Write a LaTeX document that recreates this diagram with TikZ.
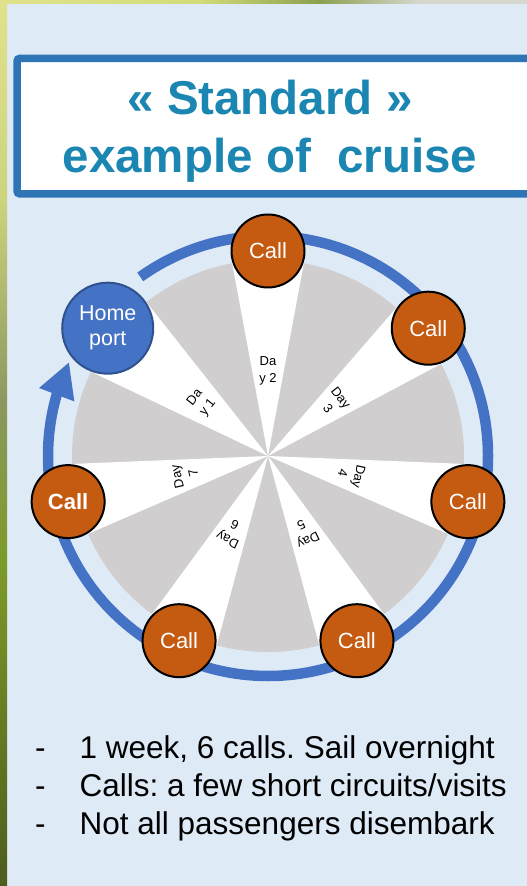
\documentclass[tikz,border=0pt]{standalone}
\usepackage{fontspec}
\setmainfont{Liberation Sans}
\frenchspacing
\usetikzlibrary{calc,arrows.meta,bending}
\definecolor{panel}{RGB}{222,234,246}
\definecolor{titleblue}{RGB}{46,117,182}
\definecolor{titletext}{RGB}{26,134,177}
\definecolor{ringblue}{RGB}{68,114,196}
\definecolor{homeborder}{RGB}{47,82,143}
\definecolor{callfill}{RGB}{197,90,17}
\definecolor{diskgray}{RGB}{208,206,206}
\definecolor{gA}{RGB}{224,226,140}
\definecolor{gB}{RGB}{205,212,125}
\definecolor{gC}{RGB}{140,152,95}
\definecolor{gD}{RGB}{125,155,40}
\definecolor{gE}{RGB}{78,92,30}
\definecolor{tA}{RGB}{210,220,120}
\definecolor{tB}{RGB}{140,160,80}
\definecolor{tC}{RGB}{215,215,208}
\pgfdeclarelayer{bg}
\pgfdeclarelayer{mid}
\pgfsetlayers{bg,mid,main}
\begin{document}
\begin{tikzpicture}[x=1pt,y=1pt,
  callc/.style={circle,draw=black,line width=2pt,fill=callfill,minimum size=73pt,inner sep=0pt,text=white,font=\fontsize{22}{24}\selectfont},
  homec/.style={circle,draw=homeborder,line width=2pt,fill=ringblue,minimum size=91pt,inner sep=0pt,text=white,align=center,font=\fontsize{21.5}{25}\selectfont},
  daylab/.style={align=center,inner sep=0pt,font=\fontsize{13}{16.5}\selectfont},
  bullettxt/.style={anchor=base west,inner sep=0pt,font=\fontsize{31.5}{36}\selectfont},
  titletxt/.style={anchor=base,inner sep=0pt,text=titletext,font=\bfseries\fontsize{47.5}{55}\selectfont},
  wedge/.style={fill=white},
  ring/.style={ringblue,line width=10.5pt,-{Triangle[length=35pt,width=35pt,flex]}}]
\useasboundingbox (0,0) rectangle (527,886);
\coordinate (C) at (268,430);
\begin{pgfonlayer}{bg}
  \fill[panel] (0,0) rectangle (527,886);
  \shade[top color=gA,bottom color=gB] (0,686) rectangle (7,886);
  \shade[top color=gB,bottom color=gC] (0,486) rectangle (7,686.5);
  \shade[top color=gC,bottom color=gD] (0,326) rectangle (7,486.5);
  \shade[top color=gD,bottom color=gE] (0,0) rectangle (7,326.5);
  \shade[left color=gA,right color=tA] (0,882) rectangle (200,886);
  \shade[left color=tA,right color=tB] (199.5,882) rectangle (320,886);
  \shade[left color=tB,right color=tC] (319.5,882) rectangle (420,886);
  \fill[tC] (419.5,882) rectangle (527,886);
  \draw[titleblue,line width=7.5pt,fill=white,rounded corners=3pt] (17,692) rectangle (545,827.7);
  \fill[diskgray] (C) circle[radius=196];
\end{pgfonlayer}
% title
\node[titletxt] (t1) at (270,771) {« Standard »};
\node[titletxt] (t2) at (270,713) {example of\ \ cruise};
% ports
\node[callc] (call2) at ($(C)+(90:205)$) {Call};
\node[homec] (home) at ($(C)+(141.43:205)$) {Home\\port};
\node[callc,font=\bfseries\fontsize{22}{24}\selectfont] (call7) at ($(C)+(192.86:205)$) {Call};
\node[callc] (call6) at ($(C)+(244.29:205)$) {Call};
\node[callc] (call5) at ($(C)+(295.71:205)$) {Call};
\node[callc] (call4) at ($(C)+(347.14:205)$) {Call};
\node[callc] (call3) at ($(C)+(38.57:205)$) {Call};
\begin{pgfonlayer}{mid}
  \foreach \n in {home,call2,call3,call4,call5,call6,call7}
    \fill[wedge] (C) -- (tangent cs:node=\n,point={(C)},solution=1) -- (\n.center)
      -- (tangent cs:node=\n,point={(C)},solution=2) -- cycle;
  \draw[ring] ($(C)+(125.5:220)$) arc[start angle=125.5,end angle=-205.3,radius=220];
  \foreach \a/\t/\nm in {141.43/{Da\\y 1}/d1, 90/{Da\\y 2}/d2, 38.57/{Day\\3}/d3,
      -12.86/{Day\\4}/d4, -64.29/{Day\\5}/d5, -115.71/{Day\\6}/d6, -167.14/{Day\\7}/d7}
    \node[daylab,rotate=\a-90] (\nm) at ($(C)+(\a:85)$) {\t};
\end{pgfonlayer}
% bullets
\node[bullettxt] (b1d) at (35,127.7) {-};
\node[bullettxt] (b1) at (79.5,127.7) {1 week, 6 calls. Sail overnight};
\node[bullettxt] (b2d) at (35,89.3) {-};
\node[bullettxt] (b2) at (79.5,89.3) {Calls: a few short circuits/visits};
\node[bullettxt] (b3d) at (35,51) {-};
\node[bullettxt] (b3) at (79.5,51) {Not all passengers disembark};
\end{tikzpicture}
\end{document}
